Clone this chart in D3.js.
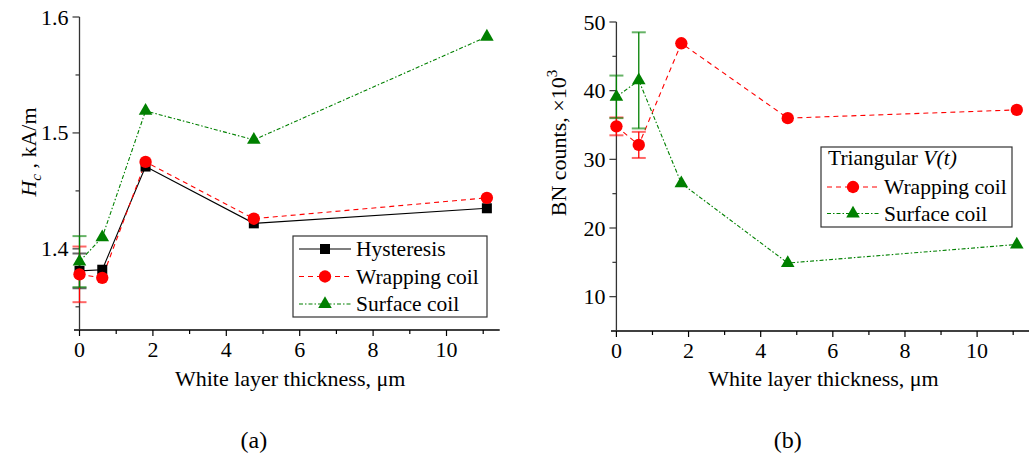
<!DOCTYPE html>
<html>
<head>
<meta charset="utf-8">
<script src="https://cdn.jsdelivr.net/npm/d3@7"></script>
<style>
  body { margin: 0; background: #fff; }
</style>
</head>
<body>
<svg id="viz" width="1029" height="460" font-family="'Liberation Serif', serif"></svg>
<script>
// White layer thickness (x) shared by both panels
const thickness = [0, 0.62, 1.8, 4.75, 11.1];

// panel (a): coercivity Hc, kA/m
const hcHysteresis = [1.381, 1.382, 1.471, 1.422, 1.435];
const hcWrapping = [1.378, 1.375, 1.475, 1.426, 1.444];
const hcSurface = [1.389, 1.410, 1.519, 1.494, 1.583];
const hcHysteresisErr = [0.015, 0, 0, 0, 0];
const hcWrappingErr = [0.024, 0, 0, 0, 0];
const hcSurfaceErr = [0.022, 0, 0, 0, 0];

// panel (b): BN counts, x10^3
const bnWrapping = [34.8, 32.1, 46.9, 36.0, 37.2];
const bnSurface = [39.1, 41.5, 26.5, 14.9, 17.6];
const bnWrappingErr = [1.3, 1.9, 0, 0, 0];
const bnSurfaceErr = [3.1, 7.0, 0, 0, 0];

const xTicks = [0, 2, 4, 6, 8, 10];
const hcTicks = [1.4, 1.5, 1.6];
const bnTicks = [10, 20, 30, 40, 50];

var svg = d3.select("#viz");
var FONT = "Liberation Serif";

var styles = {
    hyst: { color: "#000", dash: null, symbol: d3.symbolSquare, size: 100 },
    wrap: { color: "#ff0000", dash: "5,4", symbol: d3.symbolCircle, size: 120 },
    surf: { color: "#008000", dash: "4,2,1.5,2", symbol: d3.symbolTriangle, size: 80 }
};

function txt(sel) {
    return sel.append("text").attr("font-family", FONT).attr("fill", "#000");
}

function drawPanel(p) {
    var g = svg.append("g");
    var x = d3.scaleLinear().domain([-0.15, 11.45]).range([p.left, p.left + 11.6 * p.xUnit]);
    var y = d3.scaleLinear().domain(p.yDomain).range([p.bottom, p.top]);

    // axes
    var xAxis = g.append("g").attr("transform", `translate(0,${p.bottom})`);
    xAxis.append("line").attr("x1", x.range()[0]).attr("x2", x.range()[1])
        .attr("stroke", "#000").attr("stroke-width", 1.3);
    d3.range(0, 12, 1).forEach(v => {
        var major = v % 2 === 0;
        xAxis.append("line").attr("x1", x(v)).attr("x2", x(v))
            .attr("y1", 0).attr("y2", major ? 6 : 4).attr("stroke", "#000").attr("stroke-width", 1.2);
    });
    xTicks.forEach(d => {
        txt(xAxis).attr("x", x(d)).attr("y", 27).attr("text-anchor", "middle")
            .attr("font-size", 22).text(d);
    });

    var yAxis = g.append("g").attr("transform", `translate(${x(0)},0)`);
    yAxis.append("line").attr("y1", y.range()[0]).attr("y2", y.range()[1])
        .attr("stroke", "#333").attr("stroke-width", 1.3);
    p.minor.forEach(v => {
        var major = p.ticks.some(t => Math.abs(t - v) < 1e-9);
        yAxis.append("line").attr("x1", major ? -7 : -4).attr("x2", 0)
            .attr("y1", y(v)).attr("y2", y(v)).attr("stroke", "#333").attr("stroke-width", 1.2);
    });
    p.ticks.forEach(d => {
        txt(yAxis).attr("x", -11).attr("y", y(d) + 7.5).attr("text-anchor", "end")
            .attr("font-size", 22).text(p.fmt(d));
    });

    // titles
    txt(g).attr("x", x(5.74)).attr("y", 386).attr("text-anchor", "middle")
        .attr("font-size", 22).text("White layer thickness, μm");
    txt(g).attr("x", x(4.75)).attr("y", 448).attr("text-anchor", "middle")
        .attr("font-size", 24).text(p.label);
    p.yTitle(g);

    // series
    p.series.forEach(s => {
        var st = styles[s.key];
        var pts = thickness.map((t, i) => ({ x: t, y: s.values[i], e: s.err[i] }));
        g.append("path").datum(pts)
            .attr("d", d3.line().x(d => x(d.x)).y(d => y(d.y)))
            .attr("fill", "none").attr("stroke", st.color).attr("stroke-width", 1.1)
            .attr("stroke-dasharray", st.dash);
        var eb = g.append("g").attr("stroke", st.color).attr("stroke-width", 1.3);
        pts.filter(d => d.e > 0).forEach(d => {
            eb.append("line").attr("x1", x(d.x)).attr("x2", x(d.x))
                .attr("y1", y(d.y - d.e)).attr("y2", y(d.y + d.e));
            [d.y - d.e, d.y + d.e].forEach(v => {
                eb.append("line").attr("x1", x(d.x) - 7).attr("x2", x(d.x) + 7)
                    .attr("y1", y(v)).attr("y2", y(v)).attr("stroke-opacity", 0.6).attr("stroke-width", 2);
            });
        });
    });
    p.series.forEach(s => {
        var st = styles[s.key];
        g.selectAll(null).data(thickness).enter().append("path")
            .attr("d", d3.symbol().type(st.symbol).size(st.size))
            .attr("transform", (d, i) => `translate(${x(d)},${y(s.values[i])})`)
            .attr("fill", st.color);
    });

    // legend
    var L = p.legend;
    var lg = g.append("g");
    lg.append("rect").attr("x", L.x).attr("y", L.y).attr("width", L.w).attr("height", L.h)
        .attr("fill", "#fff").attr("stroke", "#333").attr("stroke-width", 1.2);
    if (L.title) {
        var t = txt(lg).attr("x", L.x + 7).attr("y", L.y + 18).attr("font-size", 21.5);
        t.append("tspan").text("Triangular ");
        t.append("tspan").attr("font-style", "italic").text("V(t)");
    }
    p.series.forEach((s, i) => {
        var st = styles[s.key];
        var cy = L.rowY + i * L.rowH;
        lg.append("line").attr("x1", L.x + 6).attr("x2", L.x + 58).attr("y1", cy).attr("y2", cy)
            .attr("stroke", st.color).attr("stroke-width", 1.1).attr("stroke-dasharray", st.dash);
        lg.append("path").attr("d", d3.symbol().type(st.symbol).size(st.size))
            .attr("transform", `translate(${L.x + 32},${cy})`).attr("fill", st.color);
        txt(lg).attr("x", L.x + 63).attr("y", cy + 7).attr("font-size", 21.5).text(s.name);
    });
}

drawPanel({
    left: 74, xUnit: 36.7, top: 17, bottom: 330, yDomain: [1.33, 1.6],
    ticks: hcTicks, minor: [1.35, 1.4, 1.45, 1.5, 1.55, 1.6], fmt: d => d.toFixed(1),
    label: "(a)",
    series: [
        { key: "hyst", name: "Hysteresis", values: hcHysteresis, err: hcHysteresisErr },
        { key: "wrap", name: "Wrapping coil", values: hcWrapping, err: hcWrappingErr },
        { key: "surf", name: "Surface coil", values: hcSurface, err: hcSurfaceErr }
    ],
    legend: { x: 293, y: 236, w: 194, h: 81, rowY: 249, rowH: 27.5 },
    yTitle: g => {
        var t = txt(g).attr("transform", "translate(36,152) rotate(-90)")
            .attr("text-anchor", "middle").attr("font-size", 22);
        t.append("tspan").attr("font-style", "italic").text("H");
        t.append("tspan").attr("font-style", "italic").attr("font-size", 15).attr("dy", 5).text("c");
        t.append("tspan").attr("dy", -5).text(" , kA/m");
    }
});

drawPanel({
    left: 611, xUnit: 36.07, top: 22, bottom: 331, yDomain: [5, 50],
    ticks: bnTicks, minor: d3.range(10, 51, 5), fmt: d => d,
    label: "(b)",
    series: [
        { key: "wrap", name: "Wrapping coil", values: bnWrapping, err: bnWrappingErr },
        { key: "surf", name: "Surface coil", values: bnSurface, err: bnSurfaceErr }
    ],
    legend: { x: 821, y: 147, w: 191, h: 80, rowY: 187, rowH: 26.5, title: true },
    yTitle: g => {
        var t = txt(g).attr("transform", "translate(566,143) rotate(-90)")
            .attr("text-anchor", "middle").attr("font-size", 22);
        t.append("tspan").text("BN counts, ×10");
        t.append("tspan").attr("font-size", 15).attr("dy", -9).text("3");
    }
});
</script>
</body>
</html>
